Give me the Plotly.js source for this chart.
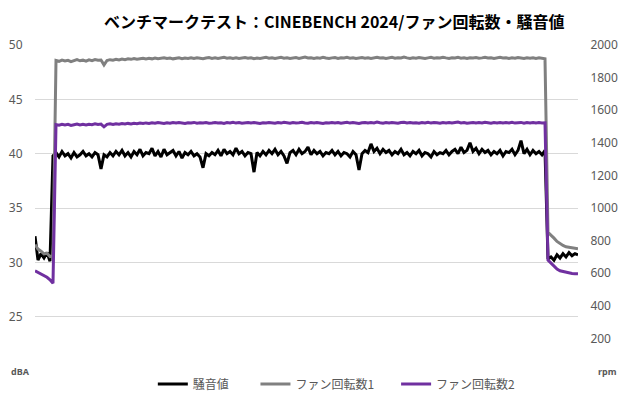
<!DOCTYPE html>
<html><head><meta charset="utf-8">
<script src="https://cdn.plot.ly/plotly-3.0.1.min.js"></script>
<style>html,body{margin:0;padding:0;background:#fff}#c{width:620px;height:400px}</style>
</head><body><div id="c"></div>
<script>
const titleText = 'ベンチマークテスト：CINEBENCH 2024/ファン回転数・騒音値';
const seriesNames = ['騒音値', 'ファン回転数1', 'ファン回転数2'];
const leftTicks = [25, 30, 35, 40, 45, 50];
const rightTicks = [200, 400, 600, 800, 1000, 1200, 1400, 1600, 1800, 2000];

const noise = [
 32.4, 30.2, 30.8, 30.4, 30.9, 30.1,
 39.8, 40.1, 39.7, 40.2, 39.8, 40.0, 39.6, 40.1, 39.7, 39.9,
 40.2, 39.8, 40.0, 39.7, 40.1, 39.9, 38.6, 39.9, 39.7, 40.1,
 39.8, 40.2, 39.9, 40.3, 39.8, 40.1, 39.7, 40.2, 39.9, 40.4,
 39.8, 40.1, 40.0, 40.5, 39.8, 40.2, 39.7, 40.4, 39.9, 40.1,
 40.3, 39.8, 40.2, 39.6, 40.1, 39.9, 40.2, 39.8, 40.0, 39.7,
 38.7, 40.0, 39.8, 40.1, 39.9, 40.3, 39.8, 40.4, 40.0, 40.2,
 39.9, 40.5, 40.0, 40.2, 39.8, 40.1, 40.0, 38.3, 40.1, 39.8,
 40.2, 39.9, 40.3, 40.0, 40.4, 39.9, 40.2, 39.8, 39.1, 40.1,
 40.3, 39.9, 40.4, 40.0, 40.2, 40.6, 39.9, 40.3, 40.0, 40.2,
 39.8, 40.1, 40.0, 40.3, 39.9, 40.2, 39.8, 40.1, 40.0, 39.7,
 40.2, 39.9, 38.5, 40.0, 40.3, 40.1, 40.9, 40.2, 40.5, 40.0,
 40.4, 40.1, 40.3, 39.9, 40.2, 40.0, 40.4, 39.9, 40.1, 39.8,
 40.2, 40.0, 40.3, 39.8, 40.1, 40.0, 39.7, 40.2, 39.9, 40.1,
 40.0, 40.3, 39.9, 40.2, 40.4, 40.0, 40.6, 40.1, 40.3, 41.0,
 40.2, 40.5, 40.0, 40.4, 40.1, 40.3, 39.9, 40.2, 40.0, 40.3,
 39.8, 40.2, 40.1, 40.4, 39.9, 40.3, 41.2, 40.0, 40.4, 39.9,
 40.3, 40.0, 40.2, 39.9, 40.3,
 30.3, 30.5, 30.2, 30.7, 30.4, 30.8, 30.5, 30.9, 30.6, 30.8, 30.7
];

const fan1 = [
 775, 748, 735, 718, 722, 702, 706,
 1905, 1900, 1908, 1902, 1906, 1898, 1904, 1910, 1903, 1907,
 1901, 1909, 1904, 1911, 1906, 1908, 1878, 1905, 1910, 1907,
 1912, 1908, 1914, 1910, 1915, 1912, 1917, 1913, 1916, 1919,
 1914, 1918, 1915, 1920, 1916, 1919, 1922, 1917, 1920, 1915,
 1919, 1921, 1916, 1920, 1918, 1922, 1917, 1921, 1919, 1916,
 1920, 1923, 1918, 1921, 1917, 1920, 1924, 1919, 1922, 1918,
 1921, 1917, 1920, 1923, 1919, 1922, 1916, 1920, 1918, 1921,
 1924, 1919, 1922, 1918, 1920, 1925, 1919, 1921, 1917, 1920,
 1923, 1918, 1921, 1926, 1920, 1922, 1918, 1921, 1919, 1924,
 1920, 1917, 1921, 1923, 1918, 1922, 1920, 1924, 1919, 1921,
 1917, 1920, 1923, 1919, 1922, 1918, 1921, 1925, 1920, 1922,
 1918, 1921, 1924, 1919, 1922, 1920, 1926, 1921, 1918, 1922,
 1919, 1923, 1920, 1917, 1921, 1924, 1919, 1922, 1920, 1925,
 1921, 1918, 1922, 1920, 1924, 1919, 1921, 1917, 1922, 1920,
 1923, 1919, 1921, 1925, 1920, 1922, 1918, 1921, 1924, 1920,
 1922, 1918, 1921, 1919, 1923, 1920, 1917, 1921, 1919, 1922,
 1918, 1921, 1919, 1916,
 850, 835, 815, 795, 780, 770, 762, 758, 755, 752, 750
];

const fan2 = [
 615, 605, 595, 590, 575, 560, 538,
 1512, 1508, 1514, 1510, 1513, 1507, 1511, 1515, 1509, 1513,
 1510, 1514, 1511, 1516, 1512, 1515, 1498, 1513, 1516, 1512,
 1517, 1514, 1518, 1515, 1519, 1516, 1520, 1517, 1521, 1518,
 1522, 1519, 1523, 1520, 1524, 1521, 1519, 1523, 1520, 1524,
 1521, 1525, 1522, 1519, 1523, 1521, 1525, 1520, 1523, 1521,
 1524, 1520, 1522, 1525, 1521, 1523, 1519, 1524, 1522, 1526,
 1521, 1524, 1520, 1523, 1525, 1521, 1524, 1522, 1519, 1523,
 1521, 1525, 1522, 1520, 1524, 1521, 1526, 1522, 1520, 1524,
 1521, 1523, 1526, 1522, 1520, 1524, 1521, 1525, 1522, 1519,
 1523, 1521, 1525, 1522, 1524, 1520, 1523, 1526, 1521, 1524,
 1522, 1519, 1523, 1525, 1521, 1524, 1522, 1527, 1523, 1520,
 1524, 1521, 1525, 1522, 1520, 1524, 1526, 1522, 1525, 1521,
 1523, 1520, 1524, 1522, 1526, 1521, 1525, 1523, 1520, 1524,
 1522, 1525, 1521, 1524, 1527, 1522, 1524, 1520, 1523, 1525,
 1521, 1524, 1522, 1526, 1523, 1520, 1524, 1522, 1525, 1521,
 1524, 1522, 1526, 1521, 1523, 1525, 1520, 1524, 1522, 1525,
 1521, 1524, 1522, 1523,
 680, 660, 640, 625, 615, 610, 605, 601, 598, 597, 596
];

const idx = noise.map((_, i) => i);
const tickFont = {family: 'Noto Sans, Open Sans, sans-serif', size: 12, color: '#595959'};
const legFont = {family: 'Noto Sans CJK JP, sans-serif', size: 12, color: '#595959'};

const traces = [
 {x: [0], y: [20], yaxis: 'y3', type: 'scatter', mode: 'lines', showlegend: false, hoverinfo: 'skip', line: {width: 0}},
 {x: idx, y: noise, name: seriesNames[0], type: 'scatter', mode: 'lines', yaxis: 'y', legend: 'legend', line: {color: '#000000', width: 3}},
 {x: idx, y: fan1, name: seriesNames[1], type: 'scatter', mode: 'lines', yaxis: 'y2', legend: 'legend2', line: {color: '#808080', width: 3}},
 {x: idx, y: fan2, name: seriesNames[2], type: 'scatter', mode: 'lines', yaxis: 'y2', legend: 'legend3', line: {color: '#7030A0', width: 3}}
];

function leg(x) {
 return {orientation: 'h', x: x, xanchor: 'left', y: -0.04, yanchor: 'middle', font: legFont, bgcolor: 'rgba(0,0,0,0)', borderwidth: 0};
}

const layout = {
 width: 620, height: 400,
 margin: {l: 35, r: 42, t: 45, b: 29, autoexpand: false},
 paper_bgcolor: '#ffffff', plot_bgcolor: '#ffffff',
 showlegend: true,
 title: {text: '<b>' + titleText + '</b>', font: {family: 'Noto Sans CJK JP, sans-serif', size: 16, color: '#000000'},
   xref: 'container', x: 0.539, xanchor: 'center', yref: 'container', y: 0.945, yanchor: 'middle'},
 xaxis: {range: [0, idx.length - 1], showgrid: false, zeroline: false, showticklabels: false, ticks: '', showline: false, fixedrange: true},
 yaxis: {range: [20, 50], tickvals: leftTicks, ticktext: leftTicks.map(String), showgrid: false, zeroline: false,
   ticks: 'outside', ticklen: 9, tickcolor: 'rgba(0,0,0,0)', tickfont: tickFont, showline: false},
 yaxis2: {range: [0, 2000], tickvals: rightTicks, ticktext: rightTicks.map(String), overlaying: 'y', side: 'right',
   showgrid: false, zeroline: false, ticks: 'outside', ticklen: 9, tickcolor: 'rgba(0,0,0,0)', tickfont: tickFont, showline: false},
 yaxis3: {range: [20, 50], tickvals: [25, 30, 35, 40, 45], overlaying: 'y', showticklabels: false, showgrid: true,
   gridcolor: '#d9d9d9', gridwidth: 1, zeroline: false, ticks: ''},
 legend: leg(0.217),
 legend2: leg(0.406),
 legend3: leg(0.665),
 annotations: [
   {text: '<b>dBA</b>', xref: 'paper', yref: 'y', x: 0, y: 20, xanchor: 'right', yanchor: 'middle', xshift: -3, showarrow: false,
    font: {family: 'Noto Sans, sans-serif', size: 9, color: '#595959'}},
   {text: '<b>rpm</b>', xref: 'paper', yref: 'y', x: 1, y: 20, xanchor: 'left', yanchor: 'middle', xshift: 18, showarrow: false,
    font: {family: 'Noto Sans, sans-serif', size: 9, color: '#595959'}}
 ]
};

Plotly.newPlot('c', traces, layout, {displayModeBar: false, staticPlot: true});
</script></body></html>
